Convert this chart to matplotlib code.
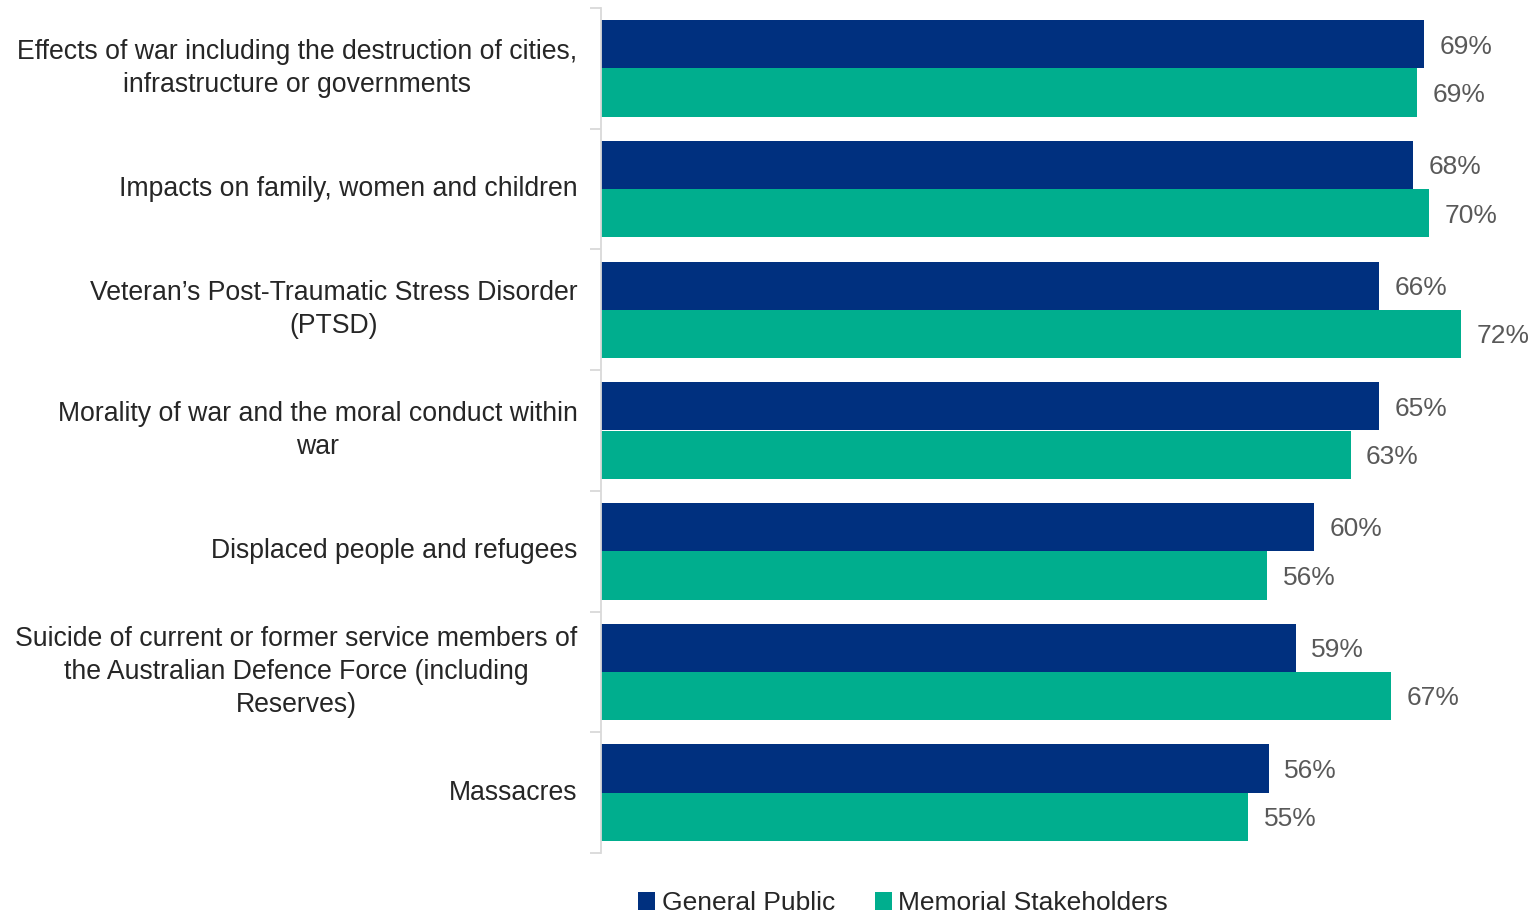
import matplotlib.pyplot as plt
import numpy as np

plt.rcParams['font.family'] = ['Liberation Sans', 'DejaVu Sans']

categories = [
    "Effects of war including the destruction of cities,\ninfrastructure or governments",
    "Impacts on family, women and children",
    "Veteran\u2019s Post-Traumatic Stress Disorder\n(PTSD)",
    "Morality of war and the moral conduct within\nwar",
    "Displaced people and refugees",
    "Suicide of current or former service members of\nthe Australian Defence Force (including\nReserves)",
    "Massacres",
]
general_public = [69.3, 68.4, 65.5, 65.5, 60.0, 58.5, 56.2]
memorial_stake = [68.7, 69.7, 72.4, 63.1, 56.1, 66.5, 54.5]
gp_labels = ["69%", "68%", "66%", "65%", "60%", "59%", "56%"]
ms_labels = ["69%", "70%", "72%", "63%", "56%", "67%", "55%"]

navy = "#00307F"
teal = "#00AE8E"

fig = plt.figure(figsize=(15.32, 9.15), dpi=100)
ax = fig.add_axes([601 / 1532, 62 / 915, 926.5 / 1532, 845 / 915])

y = np.arange(len(categories))
h = 0.4
ax.barh(y - h / 2, general_public, height=h, color=navy, label="General Public")
ax.barh(y + h / 2, memorial_stake, height=h, color=teal, label="Memorial Stakeholders")

for i in range(len(categories)):
    ax.text(general_public[i] + 1.3, y[i] - h / 2 + 0.02, gp_labels[i], va='center', ha='left',
            fontsize=19, color='#595959')
    ax.text(memorial_stake[i] + 1.3, y[i] + h / 2 + 0.02, ms_labels[i], va='center', ha='left',
            fontsize=19, color='#595959')

ax.set_xlim(0, 78)
ax.set_ylim(len(categories) - 0.5, -0.5)
ax.set_xticks([])
ax.set_yticks(y)
ax.set_yticklabels(categories, fontsize=19.2, color='#262626', multialignment='center',
                   linespacing=1.35, va='center')
ax.tick_params(axis='y', which='major', length=0, pad=17)
ax.set_yticks(np.arange(-0.5, len(categories)), minor=True)
ax.tick_params(axis='y', which='minor', length=8, width=1.3, color='#D9D9D9')

for s in ['top', 'right', 'bottom']:
    ax.spines[s].set_visible(False)
ax.spines['left'].set_color('#D9D9D9')
ax.spines['left'].set_linewidth(1.3)

fig.legend(loc='center', bbox_to_anchor=(903 / 1532, 1 - 903 / 915), ncol=2, frameon=False,
           fontsize=19, handlelength=0.65, handleheight=0.65, handletextpad=0.25,
           columnspacing=1.5, labelcolor='#262626')

fig.savefig("out.png", dpi=100)
